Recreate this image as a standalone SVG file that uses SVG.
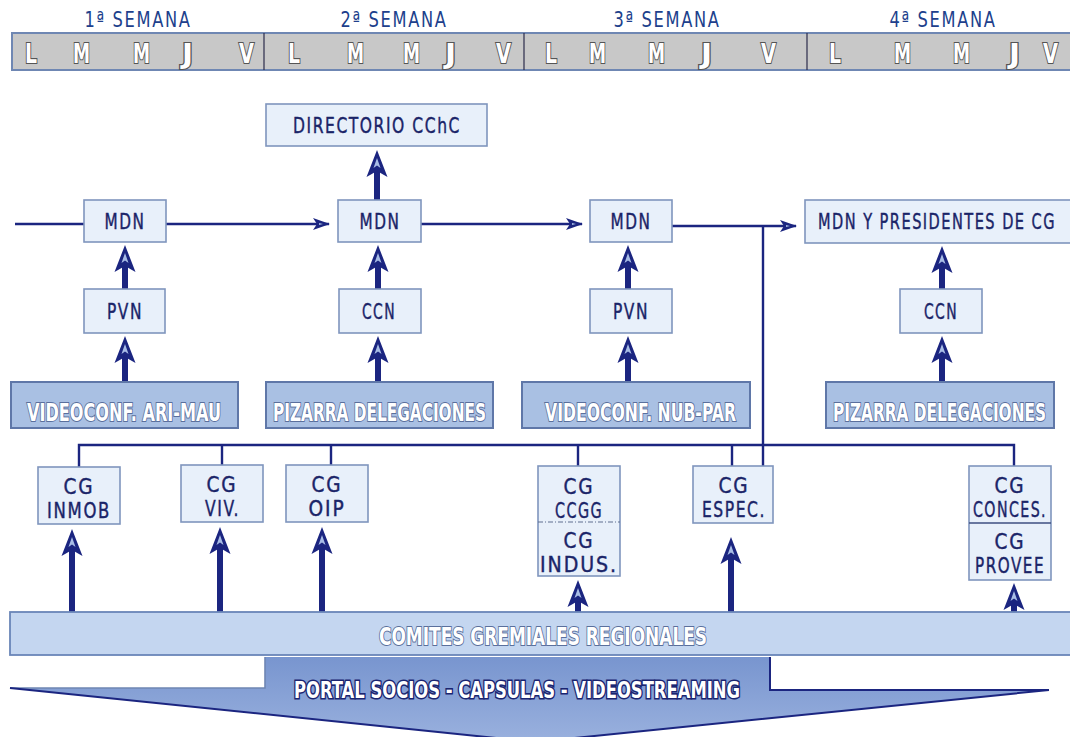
<svg xmlns="http://www.w3.org/2000/svg" xmlns:xlink="http://www.w3.org/1999/xlink" width="1070" height="737" viewBox="0 0 1070 737">
<style>
.hdr{font-family:"DejaVu Sans Condensed","DejaVu Sans",sans-serif;font-size:22px;fill:#203f8c;letter-spacing:2px}
.day{font-family:"DejaVu Sans Condensed","DejaVu Sans",sans-serif;font-size:27px;font-weight:bold;fill:#ffffff;stroke:#555555;stroke-width:2.2;paint-order:stroke}
.box{fill:#e8f0fa;stroke:#7f95bd;stroke-width:1.6}
.dbox{fill:#a9c0e3;stroke:#5f77a8;stroke-width:2}
.t{font-family:"DejaVu Sans Condensed","DejaVu Sans",sans-serif;font-size:22px;fill:#1a2468;letter-spacing:2px;stroke:#1a2468;stroke-width:0.4}
.ot{font-family:"DejaVu Sans Condensed","DejaVu Sans",sans-serif;font-size:24px;font-weight:bold;fill:#ffffff;stroke:#5a6f9c;stroke-width:2;paint-order:stroke}
.pt{font-family:"DejaVu Sans Condensed","DejaVu Sans",sans-serif;font-size:23px;font-weight:bold;fill:#ffffff;stroke:#1a2470;stroke-width:3.2;paint-order:stroke}
.thin{stroke:#1b2580;stroke-width:2.4;fill:none}
.thick{stroke:#1b2580;stroke-width:6;fill:none}
</style>
<defs>
<marker id="ta" viewBox="0 0 17 12" refX="16" refY="6" markerWidth="17" markerHeight="12" orient="auto" markerUnits="userSpaceOnUse">
<path d="M0,0 L17,6 L0,12 L4,6 Z" fill="#1b2580"/>
<path d="M6,5 L10,6 L6,7 Z" fill="#a9bde6"/>
</marker>
<g id="ah">
<path d="M0,0 L10.5,27 L0,21 L-10.5,27 Z" fill="#1b2580"/>
<path d="M0,8 L3.5,18 L0,15.5 L-3.5,18 Z" fill="#a9bde6"/>
</g>
<linearGradient id="ag" x1="0" y1="0" x2="0" y2="1">
<stop offset="0" stop-color="#7895cf"/>
<stop offset="1" stop-color="#9ab1de"/>
</linearGradient>
</defs>
<rect width="1070" height="737" fill="#ffffff"/>

<g id="header">
<text class="hdr" x="84.5" y="27" textLength="107" lengthAdjust="spacingAndGlyphs">1ª SEMANA</text>
<text class="hdr" x="340.5" y="27" textLength="107" lengthAdjust="spacingAndGlyphs">2ª SEMANA</text>
<text class="hdr" x="613.5" y="27" textLength="107" lengthAdjust="spacingAndGlyphs">3ª SEMANA</text>
<text class="hdr" x="889.5" y="27" textLength="107" lengthAdjust="spacingAndGlyphs">4ª SEMANA</text>
<rect x="12" y="33" width="1070" height="37" fill="#c8c8c8" stroke="#6f87b3" stroke-width="2"/>
<line x1="264" y1="33" x2="264" y2="70" stroke="#2a2a4a" stroke-width="1.2"/>
<line x1="524" y1="33" x2="524" y2="70" stroke="#2a2a4a" stroke-width="1.2"/>
<line x1="807" y1="33" x2="807" y2="70" stroke="#2a2a4a" stroke-width="1.2"/>
<text class="day" x="25" y="63" textLength="12" lengthAdjust="spacingAndGlyphs">L</text>
<text class="day" x="73" y="63" textLength="17" lengthAdjust="spacingAndGlyphs">M</text>
<text class="day" x="133" y="63" textLength="17" lengthAdjust="spacingAndGlyphs">M</text>
<text class="day" x="182" y="63" textLength="11" lengthAdjust="spacingAndGlyphs">J</text>
<text class="day" x="239" y="63" textLength="15" lengthAdjust="spacingAndGlyphs">V</text>
<text class="day" x="288" y="63" textLength="12" lengthAdjust="spacingAndGlyphs">L</text>
<text class="day" x="347" y="63" textLength="17" lengthAdjust="spacingAndGlyphs">M</text>
<text class="day" x="403" y="63" textLength="17" lengthAdjust="spacingAndGlyphs">M</text>
<text class="day" x="445" y="63" textLength="11" lengthAdjust="spacingAndGlyphs">J</text>
<text class="day" x="496" y="63" textLength="15" lengthAdjust="spacingAndGlyphs">V</text>
<text class="day" x="545" y="63" textLength="12" lengthAdjust="spacingAndGlyphs">L</text>
<text class="day" x="589" y="63" textLength="17" lengthAdjust="spacingAndGlyphs">M</text>
<text class="day" x="648" y="63" textLength="17" lengthAdjust="spacingAndGlyphs">M</text>
<text class="day" x="701" y="63" textLength="11" lengthAdjust="spacingAndGlyphs">J</text>
<text class="day" x="761" y="63" textLength="15" lengthAdjust="spacingAndGlyphs">V</text>
<text class="day" x="829" y="63" textLength="12" lengthAdjust="spacingAndGlyphs">L</text>
<text class="day" x="894" y="63" textLength="17" lengthAdjust="spacingAndGlyphs">M</text>
<text class="day" x="953" y="63" textLength="17" lengthAdjust="spacingAndGlyphs">M</text>
<text class="day" x="1009" y="63" textLength="11" lengthAdjust="spacingAndGlyphs">J</text>
<text class="day" x="1043" y="63" textLength="15" lengthAdjust="spacingAndGlyphs">V</text>
</g>

<g id="connectors">
<path class="thin" d="M15,224 H84"/>
<path class="thin" d="M166,224 H329" marker-end="url(#ta)"/>
<path class="thin" d="M421,224 H582" marker-end="url(#ta)"/>
<path class="thin" d="M672,226 H796" marker-end="url(#ta)"/>
<path class="thin" d="M763,226 V466"/>
<path class="thin" d="M79,467 V445 H1014 V466"/>
<path class="thin" d="M222,445 V465"/>
<path class="thin" d="M331,445 V465"/>
<path class="thin" d="M578,445 V466"/>
<path class="thin" d="M732,445 V466"/>
<line class="thick" x1="377" y1="200" x2="377" y2="168"/><use xlink:href="#ah" transform="translate(377,150)"/>
<line class="thick" x1="125" y1="289" x2="125" y2="263"/><use xlink:href="#ah" transform="translate(125,245)"/>
<line class="thick" x1="378" y1="289" x2="378" y2="263"/><use xlink:href="#ah" transform="translate(378,245)"/>
<line class="thick" x1="628" y1="289" x2="628" y2="263"/><use xlink:href="#ah" transform="translate(628,245)"/>
<line class="thick" x1="942" y1="289" x2="942" y2="264"/><use xlink:href="#ah" transform="translate(942,246)"/>
<line class="thick" x1="125" y1="382" x2="125" y2="354"/><use xlink:href="#ah" transform="translate(125,336)"/>
<line class="thick" x1="378" y1="382" x2="378" y2="354"/><use xlink:href="#ah" transform="translate(378,336)"/>
<line class="thick" x1="628" y1="382" x2="628" y2="354"/><use xlink:href="#ah" transform="translate(628,336)"/>
<line class="thick" x1="942" y1="382" x2="942" y2="354"/><use xlink:href="#ah" transform="translate(942,336)"/>
<line class="thick" x1="72" y1="612" x2="72" y2="547"/><use xlink:href="#ah" transform="translate(72,529)"/>
<line class="thick" x1="220" y1="612" x2="220" y2="545"/><use xlink:href="#ah" transform="translate(220,527)"/>
<line class="thick" x1="322" y1="612" x2="322" y2="545"/><use xlink:href="#ah" transform="translate(322,527)"/>
<line class="thick" x1="578" y1="612" x2="578" y2="598"/><use xlink:href="#ah" transform="translate(578,580)"/>
<line class="thick" x1="731" y1="612" x2="731" y2="555"/><use xlink:href="#ah" transform="translate(731,537)"/>
<line class="thick" x1="1014" y1="612" x2="1014" y2="601"/><use xlink:href="#ah" transform="translate(1014,583)"/>
</g>

<g id="directorio"><rect class="box" x="266" y="104" width="221" height="42"/><text class="t" x="293" y="133" textLength="168" lengthAdjust="spacingAndGlyphs">DIRECTORIO CChC</text></g>
<g id="mdn1"><rect class="box" x="84" y="200" width="82" height="42"/><text class="t" x="104.5" y="229" textLength="41" lengthAdjust="spacingAndGlyphs">MDN</text></g>
<g id="mdn2"><rect class="box" x="338" y="200" width="83" height="42"/><text class="t" x="359.5" y="229" textLength="41" lengthAdjust="spacingAndGlyphs">MDN</text></g>
<g id="mdn3"><rect class="box" x="590" y="200" width="82" height="42"/><text class="t" x="610.5" y="229" textLength="41" lengthAdjust="spacingAndGlyphs">MDN</text></g>
<g id="mdnpres"><rect class="box" x="805" y="200" width="275" height="43"/><text class="t" x="818" y="229" textLength="238" lengthAdjust="spacingAndGlyphs">MDN Y PRESIDENTES DE CG</text></g>
<g id="pvn1"><rect class="box" x="84" y="289" width="81" height="44"/><text class="t" x="107" y="319" textLength="36" lengthAdjust="spacingAndGlyphs">PVN</text></g>
<g id="ccn2"><rect class="box" x="339" y="289" width="82" height="44"/><text class="t" x="362" y="319" textLength="34" lengthAdjust="spacingAndGlyphs">CCN</text></g>
<g id="pvn3"><rect class="box" x="590" y="289" width="82" height="44"/><text class="t" x="613" y="319" textLength="36" lengthAdjust="spacingAndGlyphs">PVN</text></g>
<g id="ccn4"><rect class="box" x="900" y="289" width="82" height="44"/><text class="t" x="924" y="319" textLength="34" lengthAdjust="spacingAndGlyphs">CCN</text></g>

<g id="videoconf1"><rect class="dbox" x="11" y="382" width="227" height="46"/><text class="ot" x="27" y="421" textLength="194" lengthAdjust="spacingAndGlyphs">VIDEOCONF. ARI-MAU</text></g>
<g id="pizarra2"><rect class="dbox" x="266" y="382" width="227" height="46"/><text class="ot" x="273" y="421" textLength="213" lengthAdjust="spacingAndGlyphs">PIZARRA DELEGACIONES</text></g>
<g id="videoconf3"><rect class="dbox" x="522" y="382" width="228" height="46"/><text class="ot" x="545" y="421" textLength="191" lengthAdjust="spacingAndGlyphs">VIDEOCONF. NUB-PAR</text></g>
<g id="pizarra4"><rect class="dbox" x="826" y="382" width="228" height="46"/><text class="ot" x="833" y="421" textLength="213" lengthAdjust="spacingAndGlyphs">PIZARRA DELEGACIONES</text></g>

<g id="cg-inmob"><rect class="box" x="38" y="467" width="82" height="57"/><text class="t" x="63.5" y="494" textLength="31" lengthAdjust="spacingAndGlyphs">CG</text><text class="t" x="47" y="518" textLength="64" lengthAdjust="spacingAndGlyphs">INMOB</text></g>
<g id="cg-viv"><rect class="box" x="181" y="465" width="82" height="57"/><text class="t" x="206.5" y="492" textLength="31" lengthAdjust="spacingAndGlyphs">CG</text><text class="t" x="205" y="516" textLength="35" lengthAdjust="spacingAndGlyphs">VIV.</text></g>
<g id="cg-oip"><rect class="box" x="286" y="465" width="82" height="57"/><text class="t" x="311.5" y="492" textLength="31" lengthAdjust="spacingAndGlyphs">CG</text><text class="t" x="308.5" y="516" textLength="37" lengthAdjust="spacingAndGlyphs">OIP</text></g>
<g id="cg-ccgg-indus"><rect class="box" x="538" y="466" width="82" height="110"/><line x1="538" y1="522" x2="620" y2="522" stroke="#5f6f90" stroke-width="1" stroke-dasharray="5,2,1,2"/>
<text class="t" x="563.5" y="494" textLength="31" lengthAdjust="spacingAndGlyphs">CG</text><text class="t" x="555" y="518" textLength="48" lengthAdjust="spacingAndGlyphs">CCGG</text>
<text class="t" x="563.5" y="548" textLength="31" lengthAdjust="spacingAndGlyphs">CG</text><text class="t" x="540" y="572" textLength="78" lengthAdjust="spacingAndGlyphs">INDUS.</text></g>
<g id="cg-espec"><rect class="box" x="693" y="466" width="80" height="57"/><text class="t" x="718.5" y="493" textLength="31" lengthAdjust="spacingAndGlyphs">CG</text><text class="t" x="702" y="517" textLength="64" lengthAdjust="spacingAndGlyphs">ESPEC.</text></g>
<g id="cg-conces-provee"><rect class="box" x="969" y="466" width="82" height="114"/><line x1="969" y1="523" x2="1051" y2="523" stroke="#3e4f80" stroke-width="1.4"/>
<text class="t" x="994.5" y="493" textLength="31" lengthAdjust="spacingAndGlyphs">CG</text><text class="t" x="973" y="517" textLength="74" lengthAdjust="spacingAndGlyphs">CONCES.</text>
<text class="t" x="994.5" y="549" textLength="31" lengthAdjust="spacingAndGlyphs">CG</text><text class="t" x="975" y="573" textLength="70" lengthAdjust="spacingAndGlyphs">PROVEE</text></g>

<g id="comites"><rect x="10" y="612" width="1070" height="43" fill="#c4d6f0" stroke="#6a86b8" stroke-width="1.8"/><text class="ot" x="379" y="645" textLength="328" lengthAdjust="spacingAndGlyphs">COMITES GREMIALES REGIONALES</text></g>
<g id="portal">
<polygon points="10,688 265,688 265,657 770,657 770,690 1049,690 535,742" fill="url(#ag)"/>
<path d="M10,688 H265 V657" fill="none" stroke="#6f86b3" stroke-width="1.6"/>
<path d="M770,657 V690 H1049" fill="none" stroke="#1b2580" stroke-width="2"/>
<path d="M10,688 L535,742 L1049,690" fill="none" stroke="#1b2580" stroke-width="2"/>
<text class="pt" x="294" y="698" textLength="446" lengthAdjust="spacingAndGlyphs">PORTAL SOCIOS - CAPSULAS - VIDEOSTREAMING</text>
</g>
</svg>
